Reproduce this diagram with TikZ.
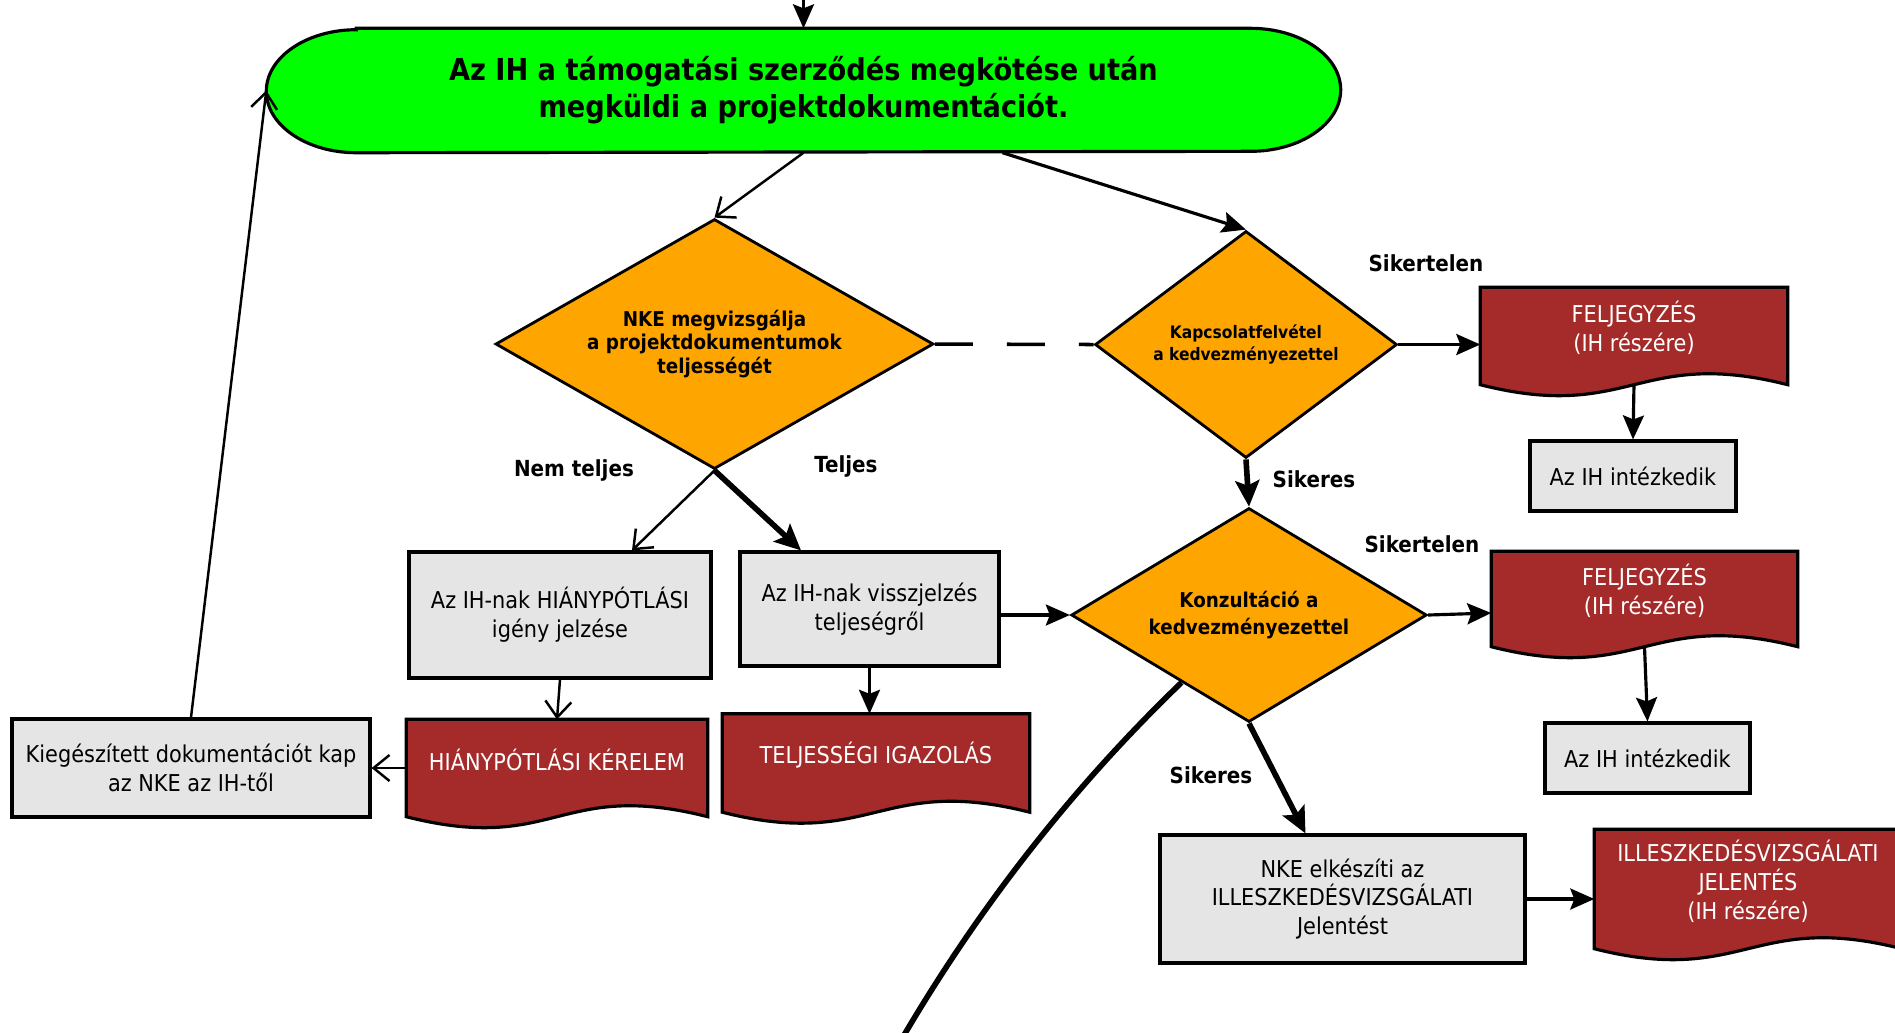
\documentclass[tikz,border=0pt]{standalone}
\usepackage{fontspec}
\setmainfont{DejaVu Sans Condensed}
\usetikzlibrary{positioning,shapes.geometric,arrows.meta,backgrounds}
\definecolor{startgreen}{RGB}{0,255,0}
\definecolor{decisionorange}{RGB}{255,165,0}
\definecolor{docred}{RGB}{165,42,42}
\definecolor{boxgray}{RGB}{229,229,229}
\tikzset{
  stepbox/.style={draw, line width=0.9pt, fill=boxgray, align=center, inner sep=1pt, font=\fontsize{6.6}{8.2}\selectfont},
  decision/.style={diamond, draw, line width=0.8pt, fill=decisionorange, inner sep=0pt, align=center},
  docnode/.style={inner sep=1pt, align=center, text=white, font=\fontsize{6.6}{8.2}\selectfont},
  branch/.style={font=\bfseries\fontsize{6.3}{7.5}\selectfont},
  thinarrow/.style={line width=0.7pt, -{Straight Barb[length=0.16cm,width=0.26cm]}},
  fillarrow/.style={line width=0.9pt, -{Stealth[length=0.24cm,width=0.21cm,inset=0.04cm]}},
  thickarrow/.style={line width=1.6pt, -{Stealth[length=0.26cm,width=0.24cm,inset=0.05cm]}}
}
% document outline, the sides run 0.16cm below the node
\newcommand{\docoutline}[1]{\draw[line width=0.9pt, fill=docred] (#1.north west) -- (#1.north east) -- ([yshift=-0.16cm]#1.south east)
    .. controls +(-1.5,0.38) and +(1.5,-0.38) .. ([yshift=-0.16cm]#1.south west) -- cycle;}

\begin{document}
\begin{tikzpicture}
\useasboundingbox (0,0) rectangle (18.95,-10.32);

% start
\node[minimum width=10.73cm, minimum height=1.23cm, inner sep=0pt, align=center, font=\bfseries\fontsize{8.6}{10.6}\selectfont] (title) at (8.035,-0.905) {Az IH a támogatási szerződés megkötése után\\megküldi a projektdokumentációt.};

% decisions
\node[decision, minimum width=4.38cm, minimum height=2.5cm, aspect=1.75, font=\bfseries\fontsize{5.8}{6.8}\selectfont] (checkdoc) at (7.145,-3.44) {NKE megvizsgálja\\a projektdokumentumok\\teljességét};
\node[decision, minimum width=3.02cm, minimum height=2.27cm, aspect=1.33, font=\bfseries\fontsize{4.9}{6.2}\selectfont] (contact) at (12.46,-3.445) {Kapcsolatfelvétel\\a kedvezményezettel};
\node[decision, minimum width=3.555cm, minimum height=2.14cm, aspect=1.66, font=\bfseries\fontsize{5.8}{7.6}\selectfont] (consult) at (12.49,-6.15) {Konzultáció a\\kedvezményezettel};

% boxes
\node[stepbox, minimum width=2.06cm, minimum height=0.70cm] (actA) at (16.33,-4.76) {Az IH intézkedik};
\node[stepbox, minimum width=2.05cm, minimum height=0.70cm] (actB) at (16.475,-7.58) {Az IH intézkedik};
\node[stepbox, minimum width=3.65cm, minimum height=1.28cm] (report) at (13.425,-8.99) {NKE elkészíti az\\ILLESZKEDÉSVIZSGÁLATI\\Jelentést};
\node[stepbox, minimum width=3.02cm, minimum height=1.26cm] (requestbox) at (5.60,-6.15) {Az IH-nak HIÁNYPÓTLÁSI\\igény jelzése};
\node[stepbox, minimum width=2.59cm, minimum height=1.14cm] (confirmbox) at (8.695,-6.09) {Az IH-nak visszjelzés\\teljeségről};
\node[stepbox, minimum width=3.58cm, minimum height=0.98cm] (receivebox) at (1.91,-7.68) {Kiegészített dokumentációt kap\\az NKE az IH-től};

% documents
\node[docnode, minimum width=3.06cm, minimum height=0.80cm] (noteA) at (16.34,-3.28) {FELJEGYZÉS\\(IH részére)};
\node[docnode, minimum width=3.05cm, minimum height=0.78cm] (noteB) at (16.445,-5.91) {FELJEGYZÉS\\(IH részére)};
\node[docnode, minimum width=3.06cm, minimum height=1.02cm] (reportdoc) at (17.48,-8.81) {ILLESZKEDÉSVIZSGÁLATI\\JELENTÉS\\(IH részére)};
\node[docnode, minimum width=3.00cm, minimum height=0.80cm] (requestdoc) at (5.57,-7.60) {HIÁNYPÓTLÁSI KÉRELEM};
\node[docnode, minimum width=3.06cm, minimum height=0.81cm] (certdoc) at (8.76,-7.55) {TELJESSÉGI IGAZOLÁS};

\begin{scope}[on background layer]
  \draw[line width=0.9pt, fill=startgreen] ([xshift=0.9cm]title.north west) -- ([xshift=-0.9cm]title.north east)
    arc[start angle=90, end angle=-90, x radius=0.9cm, y radius=0.615cm] -- ([xshift=0.9cm]title.south west)
    arc[start angle=270, end angle=90, x radius=0.9cm, y radius=0.615cm] -- cycle;
  \docoutline{noteA}
  \docoutline{noteB}
  \docoutline{reportdoc}
  \docoutline{requestdoc}
  \docoutline{certdoc}
\end{scope}

% branch labels
\node[branch] (failA) at (14.26,-2.63) {Sikertelen};
\node[branch] (okA) at (13.14,-4.79) {Sikeres};
\node[branch] (failB) at (14.22,-5.44) {Sikertelen};
\node[branch] (okB) at (12.11,-7.75) {Sikeres};
\node[branch] (notfull) at (5.74,-4.70) {Nem teljes};
\node[branch] (full) at (8.46,-4.665) {Teljes};

% connectors
\coordinate (topin) at (8.035,0.2);
\coordinate (curveend) at (9.0,-10.42);
\draw[fillarrow] (topin) -- (title.north);
\draw[thinarrow] (title.south) -- (checkdoc.north);
\draw[fillarrow] ([xshift=1.99cm]title.south) -- (contact.north);
\draw[line width=1pt, dash pattern=on 0.38cm off 0.34cm] (checkdoc.east) -- (contact.west);
\draw[fillarrow] (contact.east) -- (contact.east -| noteA.west);
\draw[fillarrow] ([yshift=-0.16cm]noteA.south) -- (actA.north);
\draw[thickarrow] (contact.south) -- (consult.north);
\draw[fillarrow] (consult.east) -- ([yshift=0.02cm]consult.east -| noteB.west);
\draw[fillarrow] ([yshift=-0.16cm]noteB.south) -- (actB.north);
\draw[thickarrow] (consult.south) -- ([xshift=-0.37cm]report.north);
\draw[fillarrow] (report.east) -- (report.east -| reportdoc.west);
\draw[thinarrow] (checkdoc.south) -- ([xshift=0.72cm]requestbox.north);
\draw[thickarrow] (checkdoc.south) -- ([xshift=-0.685cm]confirmbox.north);
\draw[fillarrow] (confirmbox.east |- consult.west) -- (consult.west);
\draw[thinarrow] (requestbox.south) -- (requestdoc.north);
\draw[fillarrow] (confirmbox.south) -- (confirmbox.south |- certdoc.north);
\draw[thinarrow] (requestdoc.west |- receivebox.east) -- (receivebox.east);
\draw[thinarrow] (receivebox.north) -- (title.west);
\draw[line width=1.6pt] (consult.225) .. controls (10.74,-7.86) and (9.80,-9.05) .. (curveend);

\end{tikzpicture}
\end{document}
